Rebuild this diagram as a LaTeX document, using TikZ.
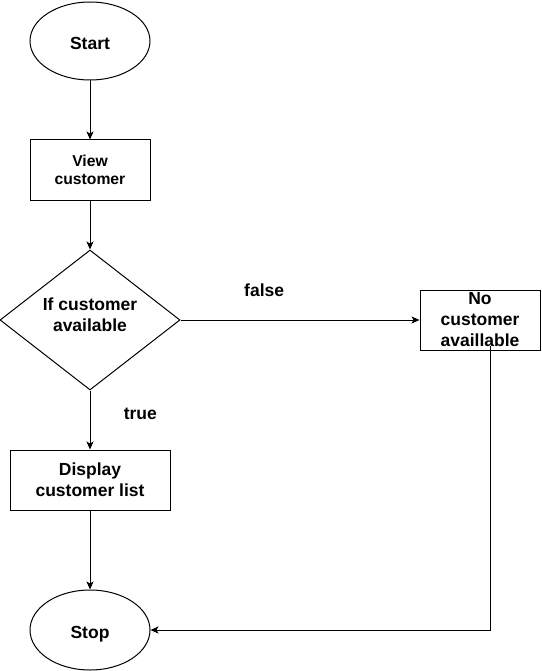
\documentclass[tikz,border=0pt]{standalone}
\usepackage{fontspec}
\setmainfont{Liberation Sans}
\usetikzlibrary{arrows.meta,shapes.geometric}

\tikzset{
  terminal/.style={ellipse, draw, minimum width=120pt, minimum height=78pt, inner sep=0pt, text height=17pt, text depth=0pt},
  process/.style={rectangle, draw, minimum width=120pt, minimum height=60pt, inner sep=0pt, align=center},
  decision/.style={diamond, draw, minimum width=180pt, minimum height=140pt, inner sep=0pt, align=center}
}

\begin{document}
\begin{tikzpicture}[x=1pt,y=-1pt,>={Stealth[length=8pt,width=7pt,inset=2pt]},line width=1pt,font=\fontsize{17.5}{21}\selectfont\bfseries]
                \useasboundingbox (0,0) rectangle (541,671);
                \node[terminal] (start) at (90,41) {Start};
                \node[process, node distance=129pt, font=\fontsize{15.7}{18.5}\selectfont\bfseries] (view) [below of=start] {View\\customer};
                \node[decision, node distance=150pt, label={[align=center, yshift=5pt]center:If customer\\available}] (cond) [below of=view] {};
                \node[process, node distance=390pt, label={[align=center]center:No\\customer\\availlable}] (nocust) [right of=cond] {};
                \node[process, minimum width=160pt, node distance=160pt] (display) [below of=cond] {Display\\customer list};
                \node[terminal, minimum height=80pt, node distance=150pt] (stop) [below of=display] {Stop};

                    \draw[->]
                             (start) edge (view)
                             (view) edge (cond)
                             (cond) edge node[pos=0.35, above=19pt] {false} (nocust)
                                    edge node[pos=0.4, right=30pt] {true} (display)
                             (display) edge (stop);
                    \draw[->] ([xshift=10pt, yshift=5pt]nocust.south) |- (stop);
\end{tikzpicture}
\end{document}
